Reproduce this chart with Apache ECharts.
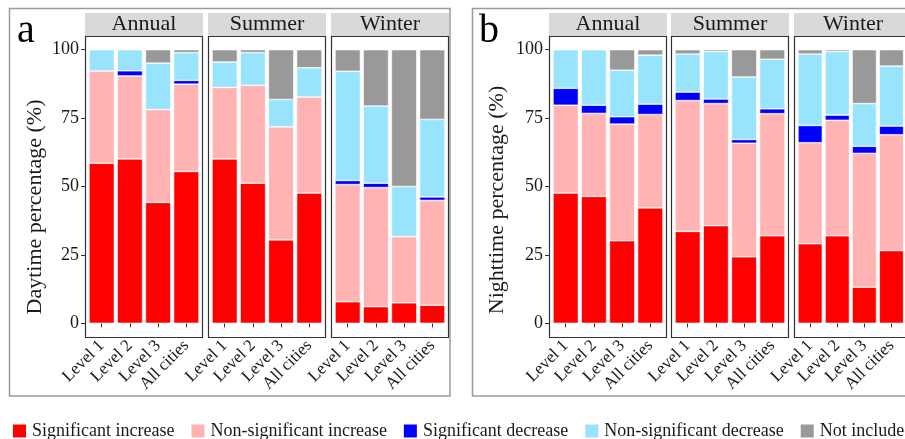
<!DOCTYPE html>
<html><head><meta charset="utf-8">
<script src="https://cdn.jsdelivr.net/npm/echarts@6/dist/echarts.min.js"></script>
<style>html,body{margin:0;padding:0;background:#fff}#c{width:905px;height:439px}</style>
</head><body><div id="c"></div>
<script>
const categories = ['Level 1','Level 2','Level 3','All cities'];
const seasons = ['Annual','Summer','Winter'];
const classNames = ['Significant increase','Non-significant increase','Significant decrease','Non-significant decrease','Not included'];
const classColors = ['#FF0000','#FFB3B3','#0000FF','#99E4FD','#999999'];
const yTicks = [0,25,50,75,100];
// Daytime (panel a): Annual L1..All, Summer L1..All, Winter L1..All
const daySigInc    = [58.5,60.1,44.2,55.5, 60.1,51.2,30.5,47.6, 7.9,6.1,7.5,6.6];
const dayNonSigInc = [33.7,30.3,33.9,31.9, 26.1,35.8,41.3,35.1, 42.8,43.5,24.2,38.3];
const daySigDec    = [0,1.9,0,1.4, 0,0,0,0, 1.5,1.6,0,1.3];
const dayNonSigDec = [7.8,7.7,17.0,10.1, 9.3,11.9,10.0,10.7, 39.9,28.2,18.3,28.3];
const dayNotIncl   = [0,0,4.9,1.1, 4.5,1.1,18.2,6.6, 7.9,20.6,50.0,25.5];
// Nighttime (panel b)
const nightSigInc    = [47.6,46.4,30.2,42.2, 33.6,35.7,24.3,32.0, 29.1,32.0,13.2,26.6];
const nightNonSigInc = [32.1,30.3,42.6,34.1, 47.8,44.6,41.5,44.6, 36.9,42.2,48.9,42.3];
const nightSigDec    = [6.2,3.0,2.7,3.8, 3.1,1.7,1.4,1.8, 6.3,1.9,2.6,3.2];
const nightNonSigDec = [14.1,20.3,17.0,17.9, 13.9,17.3,22.8,18.1, 26.1,23.2,15.6,21.9];
const nightNotIncl   = [0,0,7.5,2.0, 1.6,0.7,10.0,3.5, 1.6,0.7,19.7,6.0];

const FONT = "'Liberation Serif','Times New Roman',serif";
const TXT = '#1a1a1a';
const panels = [
  {tag:'a', title:'Daytime percentage (%)', facetLeft:[85,208,331], tagX:17, titleX:35, titleY:207,
   outer:[9.5,8.5,440.5,387.5],
   data:[daySigInc,dayNonSigInc,daySigDec,dayNonSigDec,dayNotIncl]},
  {tag:'b', title:'Nighttime percentage (%)', facetLeft:[549,671,794], tagX:479, titleX:497, titleY:200,
   outer:[472.5,8.5,460,387.5],
   data:[nightSigInc,nightNonSigInc,nightSigDec,nightNonSigDec,nightNotIncl]}
];
const PANEL_TOP = 36, PANEL_H = 301, FACET_W = 118, INSET = 2.6;

const grid = [], xAxis = [], yAxis = [], series = [], graphic = [];
let gi = 0;
panels.forEach((p, pi) => {
  graphic.push({type:'rect', shape:{x:p.outer[0], y:p.outer[1], width:p.outer[2], height:p.outer[3]},
    style:{fill:null, stroke:'#9a9a9a', lineWidth:1.5}, z:1});
  graphic.push({type:'text', x:p.tagX, y:31, style:{text:p.tag, font:'40px ' + FONT, fill:'#000', textVerticalAlign:'middle'}, z:5});
  graphic.push({type:'text', x:p.titleX, y:p.titleY, rotation:Math.PI/2,
    style:{text:p.title, font:'22px ' + FONT, fill:TXT, textAlign:'center', textVerticalAlign:'middle'}, z:5});
  seasons.forEach((s, si) => {
    const fl = p.facetLeft[si];
    grid.push({left: fl + INSET, top: PANEL_TOP, width: FACET_W - 2*INSET, height: PANEL_H, show:false});
    const first = si === 0;
    xAxis.push({type:'category', gridIndex:gi, data:categories,
      axisLine:{show:false},
      axisTick:{show:true, alignWithLabel:true, length:4, lineStyle:{color:'#333'}},
      axisLabel:{interval:0, rotate:45, fontSize:17, fontFamily:FONT, color:TXT, margin:6},
      splitLine:{show:false}});
    yAxis.push({type:'value', gridIndex:gi, min:-5, max:105, offset: INSET,
      axisLine:{show:false}, splitLine:{show:false},
      axisTick:{show:first, length:4, customValues:yTicks, lineStyle:{color:'#333'}},
      axisLabel:{show:first, customValues:yTicks, fontSize:18, fontFamily:FONT, color:TXT, margin:6}});
    p.data.forEach((arr, k) => {
      series.push({type:'bar', name:classNames[k], xAxisIndex:gi, yAxisIndex:gi, stack:'s'+gi,
        barWidth:'90%', silent:true,
        data: arr.slice(si*4, si*4+4).map(v => v === 0 ? null : v),
        itemStyle:{color:classColors[k], borderColor:'#fff', borderWidth:0.6}});
    });
    // panel border
    graphic.push({type:'rect', shape:{x:fl+0.5, y:PANEL_TOP+0.5, width:FACET_W-1, height:PANEL_H},
      style:{fill:null, stroke:'#333', lineWidth:1.2}, z:10});
    // strip
    graphic.push({type:'rect', shape:{x:fl, y:13, width:FACET_W, height:23},
      style:{fill:'#D9D9D9', stroke:null}, z:2});
    graphic.push({type:'text', x:fl + FACET_W/2, y:24.5,
      style:{text:s, font:'22px ' + FONT, fill:TXT, textAlign:'center', textVerticalAlign:'middle'}, z:5});
    gi++;
  });
});

const chart = echarts.init(document.getElementById('c'), null, {renderer:'canvas'});
chart.setOption({
  animation:false,
  backgroundColor:'#fff',
  grid, xAxis, yAxis, series, graphic,
  legend:{data:classNames, left:11, top:422, padding:0, width:1400,
    itemWidth:15, itemHeight:15, itemGap:15, icon:'rect',
    textStyle:{fontSize:18, fontFamily:FONT, color:TXT}}
});
</script></body></html>
